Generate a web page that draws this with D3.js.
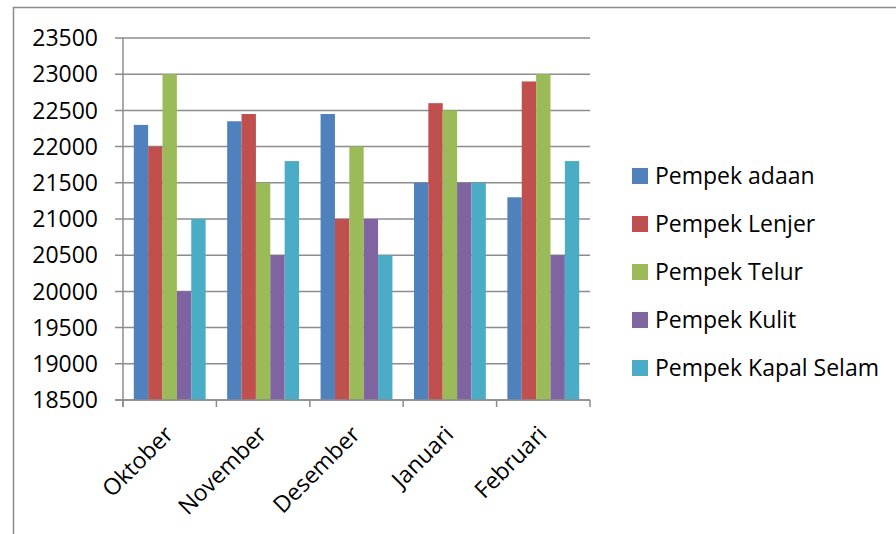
<!DOCTYPE html>
<html>
<head>
<meta charset="utf-8">
<script src="https://cdn.jsdelivr.net/npm/d3@7"></script>
<style>
  body { margin: 0; background: #fff; }
  svg text { font-family: "Open Sans", "Noto Sans", sans-serif; fill: #000; }
</style>
</head>
<body>
<div id="chart"></div>
<script>
const months = ['Oktober', 'November', 'Desember', 'Januari', 'Februari'];
const seriesNames = ['Pempek adaan', 'Pempek Lenjer', 'Pempek Telur', 'Pempek Kulit', 'Pempek Kapal Selam'];
const adaan = [22300, 22350, 22450, 21500, 21300];
const lenjer = [22000, 22450, 21000, 22600, 22900];
const telur = [23000, 21500, 22000, 22500, 23000];
const kulit = [20000, 20500, 21000, 21500, 20500];
const kapalSelam = [21000, 21800, 20500, 21500, 21800];
const yTicks = [18500, 19000, 19500, 20000, 20500, 21000, 21500, 22000, 22500, 23000, 23500];
const colors = ['#4F81BD', '#C0504D', '#9BBB59', '#8064A2', '#4BACC6'];

const series = [adaan, lenjer, telur, kulit, kapalSelam];

const width = 896;
const height = 534;
const plot = { left: 123, right: 590, top: 38, bottom: 400 };

const svg = d3.select('#chart').append('svg')
  .attr('width', width)
  .attr('height', height);

// chart frame (runs off right and bottom edges)
svg.append('rect')
  .attr('x', 13.5)
  .attr('y', 7.5)
  .attr('width', 1000)
  .attr('height', 1000)
  .attr('fill', 'none')
  .attr('stroke', '#8c8c8c')
  .attr('stroke-width', 1.5);

const y = d3.scaleLinear()
  .domain([18500, 23500])
  .range([plot.bottom, plot.top]);

const x0 = d3.scaleBand()
  .domain(months)
  .range([plot.left, plot.right])
  .paddingInner(0)
  .paddingOuter(0);

// gap width 150% -> bars take 5/6.5 of the band
const groupWidth = x0.bandwidth() * 5 / 6.5;
const x1 = d3.scaleBand()
  .domain(d3.range(series.length))
  .range([0, groupWidth]);

// gridlines
svg.append('g')
  .selectAll('line')
  .data(yTicks)
  .join('line')
  .attr('x1', plot.left - 8)
  .attr('x2', plot.right)
  .attr('y1', (d) => y(d))
  .attr('y2', (d) => y(d))
  .attr('stroke', '#8c8c8c')
  .attr('stroke-width', 1.5);

// y labels
svg.append('g')
  .selectAll('text')
  .data(yTicks)
  .join('text')
  .attr('x', 98)
  .attr('y', (d) => y(d))
  .attr('dy', '0.36em')
  .attr('text-anchor', 'end')
  .style('font-size', '23px')
  .text((d) => d);

// bars
const groups = svg.append('g')
  .selectAll('g')
  .data(months)
  .join('g')
  .attr('transform', (d) => `translate(${x0(d) + (x0.bandwidth() - groupWidth) / 2},0)`);

groups.selectAll('rect')
  .data((d, i) => series.map((s, k) => ({ k, v: s[i] })))
  .join('rect')
  .attr('x', (d) => x1(d.k))
  .attr('y', (d) => y(d.v))
  .attr('width', x1.bandwidth())
  .attr('height', (d) => y(18500) - y(d.v))
  .attr('fill', (d) => colors[d.k]);

// axes lines
svg.append('line')
  .attr('x1', plot.left).attr('x2', plot.left)
  .attr('y1', plot.top).attr('y2', plot.bottom + 7)
  .attr('stroke', '#8c8c8c')
  .attr('stroke-width', 1.5);

svg.append('line')
  .attr('x1', plot.left - 8).attr('x2', plot.right)
  .attr('y1', plot.bottom).attr('y2', plot.bottom)
  .attr('stroke', '#8c8c8c')
  .attr('stroke-width', 1.5);

const xTicks = months.map((m) => x0(m)).concat([plot.right]);
svg.append('g')
  .selectAll('line')
  .data(xTicks)
  .join('line')
  .attr('x1', (d) => d).attr('x2', (d) => d)
  .attr('y1', plot.bottom).attr('y2', plot.bottom + 7)
  .attr('stroke', '#8c8c8c')
  .attr('stroke-width', 1.5);

// x labels, rotated
svg.append('g')
  .selectAll('text')
  .data(months)
  .join('text')
  .attr('transform', (d) => `translate(${x0(d) + x0.bandwidth() / 2 - 1},${plot.bottom + 30}) rotate(-45)`)
  .attr('text-anchor', 'end')
  .attr('dy', '0.36em')
  .style('font-size', '23px')
  .text((d) => d);

// legend
const legend = svg.append('g')
  .attr('transform', 'translate(632,176)');

const rows = legend.selectAll('g')
  .data(seriesNames)
  .join('g')
  .attr('transform', (d, i) => `translate(0,${i * 48})`);

rows.append('rect')
  .attr('x', 0)
  .attr('y', -8)
  .attr('width', 16)
  .attr('height', 16)
  .attr('fill', (d, i) => colors[i]);

rows.append('text')
  .attr('x', 23)
  .attr('y', 0)
  .attr('dy', '0.36em')
  .style('font-size', '23px')
  .text((d) => d);
</script>
</body>
</html>
